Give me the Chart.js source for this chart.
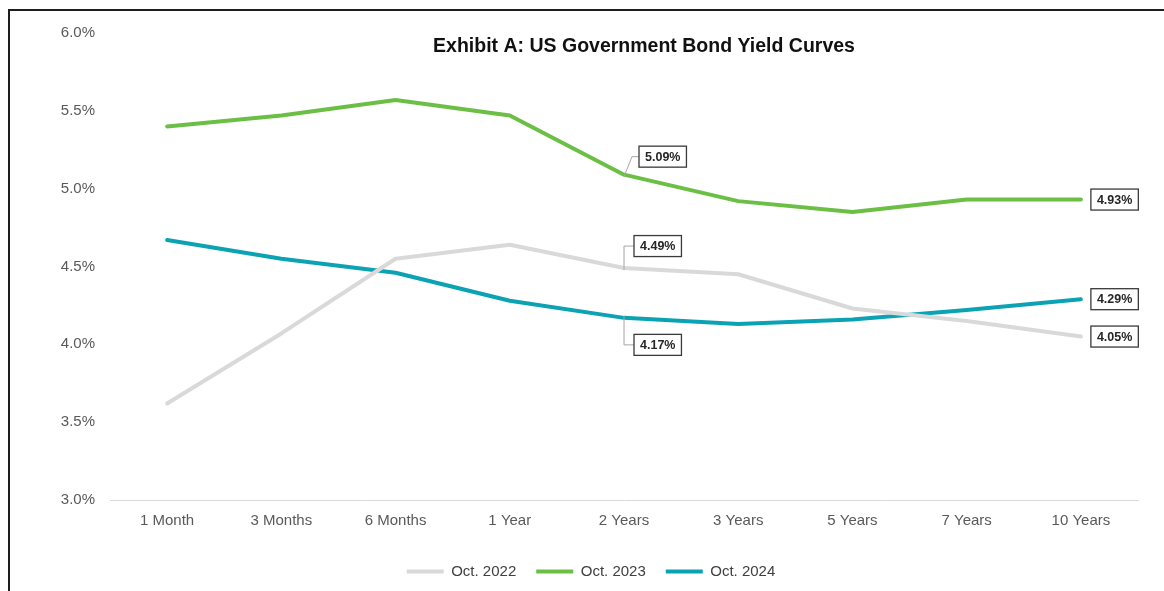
<!DOCTYPE html>
<html>
<head>
<meta charset="utf-8">
<script src="https://cdn.jsdelivr.net/npm/chart.js@4/dist/chart.umd.min.js"></script>
<style>
  html, body { margin: 0; padding: 0; background: #fff; }
  #wrap { position: relative; width: 1164px; height: 591px; overflow: hidden; }
  #myChart { position: absolute; left: 0; top: 0; }
  #frame {
    position: absolute; left: 8px; top: 9px; width: 1200px; height: 640px;
    border-left: 2px solid #1e1e1e; border-top: 2px solid #1e1e1e;
    pointer-events: none;
  }
</style>
</head>
<body>
<div id="wrap">
  <canvas id="myChart" width="1164" height="591"></canvas>
  <div id="frame"></div>
</div>
<script>
const categories = ['1 Month', '3 Months', '6 Months', '1 Year', '2 Years', '3 Years', '5 Years', '7 Years', '10 Years']
const oct_2022 = [3.62, 4.07, 4.55, 4.64, 4.49, 4.45, 4.23, 4.15, 4.05]
const oct_2023 = [5.40, 5.47, 5.57, 5.47, 5.09, 4.92, 4.85, 4.93, 4.93]
const oct_2024 = [4.67, 4.55, 4.46, 4.28, 4.17, 4.13, 4.16, 4.22, 4.29]
const series_names = ['Oct. 2022', 'Oct. 2023', 'Oct. 2024']
const series_colors = ['#d9d9d9', '#6cbf45', '#0ba3b4']
const y_ticks = [3.0, 3.5, 4.0, 4.5, 5.0, 5.5, 6.0]

// which points get a boxed value label: dataset, index, offset of the box from the point
const callouts = [
    {ds: 1, idx: 4, dx: 15, dy: -18, bend: 8},
    {ds: 0, idx: 4, dx: 10, dy: -22, bend: 0},
    {ds: 2, idx: 4, dx: 10, dy: 27, bend: 0},
    {ds: 1, idx: 8, dx: 10, dy: 0},
    {ds: 2, idx: 8, dx: 10, dy: 0},
    {ds: 0, idx: 8, dx: 10, dy: 0}
]

const FONT = "'Liberation Sans', Arial, sans-serif"

const calloutPlugin = {
    id: 'callouts',
    afterDatasetsDraw(chart){
        const ctx = chart.ctx
        ctx.save()
        ctx.font = 'bold 12.5px ' + FONT
        ctx.textBaseline = 'middle'
        ctx.textAlign = 'center'
        callouts.forEach((c) => {
            const pt = chart.getDatasetMeta(c.ds).data[c.idx]
            const value = chart.data.datasets[c.ds].data[c.idx]
            const text = value.toFixed(2) + '%'
            const w = ctx.measureText(text).width + 12
            const h = 21
            const bx = pt.x + c.dx
            const cy = pt.y + c.dy
            if (c.bend !== undefined){
                ctx.strokeStyle = '#a6a6a6'
                ctx.lineWidth = 1
                ctx.beginPath()
                ctx.moveTo(pt.x, pt.y - Math.sign(c.dy) * 2)
                ctx.lineTo(pt.x + c.bend, cy)
                ctx.lineTo(bx, cy)
                ctx.stroke()
            }
            ctx.fillStyle = '#ffffff'
            ctx.fillRect(bx, cy - h / 2, w, h)
            ctx.strokeStyle = '#3a3a3a'
            ctx.lineWidth = 1.3
            ctx.strokeRect(bx, cy - h / 2, w, h)
            ctx.fillStyle = '#262626'
            ctx.fillText(text, bx + w / 2, cy + 0.5)
        })
        ctx.restore()
    }
}

const titlePlugin = {
    id: 'sideTitle',
    afterDraw(chart){
        const ctx = chart.ctx
        ctx.save()
        ctx.font = 'bold 19.5px ' + FONT
        ctx.fillStyle = '#111111'
        ctx.textAlign = 'center'
        ctx.textBaseline = 'middle'
        ctx.fillText('Exhibit A: US Government Bond Yield Curves', 644, 47)
        ctx.restore()
    }
}

function make_dataset(name, values, color){
    return {
        label: name,
        data: values,
        borderColor: color,
        backgroundColor: color,
        borderWidth: 4,
        borderCapStyle: 'round',
        borderJoinStyle: 'round',
        pointRadius: 0,
        tension: 0
    }
}

const config = {
    type: 'line',
    data: {
        labels: categories,
        datasets: [
            make_dataset(series_names[0], oct_2022, series_colors[0]),
            make_dataset(series_names[1], oct_2023, series_colors[1]),
            make_dataset(series_names[2], oct_2024, series_colors[2])
        ]
    },
    options: {
        responsive: false,
        animation: false,
        layout: {padding: {left: 44, right: 26, top: 33, bottom: 2}},
        scales: {
            x: {
                offset: true,
                grid: {display: false, drawTicks: false},
                border: {display: true, color: '#d9d9d9', width: 1},
                ticks: {color: '#595959', font: {family: FONT, size: 15}, padding: 12, maxRotation: 0},
                afterFit(scale){ scale.height = 44 }
            },
            y: {
                min: 3,
                max: 6,
                grid: {display: false, drawTicks: false},
                border: {display: false},
                afterBuildTicks(scale){ scale.ticks = y_ticks.map((v) => ({value: v})) },
                ticks: {
                    color: '#595959',
                    font: {family: FONT, size: 15},
                    padding: 15,
                    callback: (v) => Number(v).toFixed(1) + '%'
                },
                afterFit(scale){ scale.width = 66 }
            }
        },
        plugins: {
            title: {display: false},
            tooltip: {enabled: false},
            legend: {
                position: 'bottom',
                labels: {
                    color: '#404040',
                    font: {family: FONT, size: 15},
                    boxWidth: 37,
                    boxHeight: 4,
                    padding: 20,
                    generateLabels(chart){
                        return Chart.defaults.plugins.legend.labels.generateLabels(chart).map((l) => {
                            return {...l, lineWidth: 0}
                        })
                    }
                }
            }
        }
    },
    plugins: [calloutPlugin, titlePlugin]
}

const mychart = new Chart(document.getElementById('myChart'), config)
</script>
</body>
</html>
